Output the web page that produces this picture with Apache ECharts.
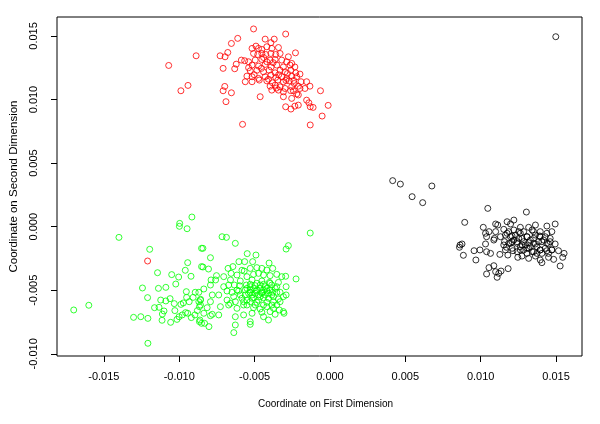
<!DOCTYPE html>
<html>
<head>
<meta charset="utf-8">
<script src="https://cdn.jsdelivr.net/npm/echarts@6/dist/echarts.min.js"></script>
<style>html,body{margin:0;padding:0;background:#fff;}#c{width:600px;height:424px;}</style>
</head>
<body>
<div id="c"></div>
<script>
var xTicks = [-0.015, -0.010, -0.005, 0.000, 0.005, 0.010, 0.015];
var yTicks = [-0.010, -0.005, 0.000, 0.005, 0.010, 0.015];
var xTitle = 'Coordinate on First Dimension';
var yTitle = 'Coordinate on Second Dimension';

var redPoints = [
[-0.00507,0.01555],[-0.00294,0.01515],[-0.00430,0.01475],[-0.00370,0.01475],[-0.00392,0.01447],[-0.00612,0.01481],[-0.00654,0.01441],[-0.00888,0.01344],[-0.01070,0.01268],[-0.00942,0.01111],[-0.00989,0.01069],[-0.00729,0.01344],[-0.00696,0.01336],[-0.00678,0.01370],[-0.00709,0.01245],[-0.00698,0.01103],[-0.00709,0.01069],[-0.00654,0.01053],[-0.00690,0.00983],[-0.00580,0.00805],[-0.00131,0.00800],[-0.00052,0.00870],[-0.00012,0.00954],[-0.00063,0.01069],[-0.00463,0.01022],[-0.00632,0.01242],[-0.00622,0.01278],[-0.00229,0.01367],[-0.01210,-0.00270],
[-0.00517,0.01402],[-0.00491,0.01420],[-0.00474,0.01402],[-0.00452,0.01394],[-0.00419,0.01415],[-0.00386,0.01402],[-0.00342,0.01409],
[-0.00507,0.01362],[-0.00479,0.01354],[-0.00452,0.01362],[-0.00426,0.01354],[-0.00392,0.01362],[-0.00360,0.01354],[-0.00331,0.01362],[-0.00276,0.01336],
[-0.00588,0.01310],[-0.00566,0.01305],[-0.00540,0.01297],[-0.00496,0.01310],[-0.00452,0.01315],[-0.00419,0.01297],[-0.00397,0.01310],[-0.00364,0.01315],[-0.00320,0.01310],[-0.00287,0.01297],[-0.00254,0.01284],
[-0.00517,0.01271],[-0.00474,0.01263],[-0.00430,0.01276],[-0.00390,0.01256],[-0.00353,0.01271],[-0.00309,0.01256],[-0.00265,0.01271],[-0.00233,0.01256],
[-0.00529,0.01226],[-0.00485,0.01230],[-0.00441,0.01218],[-0.00404,0.01230],[-0.00364,0.01210],[-0.00331,0.01230],[-0.00298,0.01218],[-0.00259,0.01230],[-0.00227,0.01210],[-0.00199,0.01200],
[-0.00551,0.01184],[-0.00517,0.01179],[-0.00474,0.01166],[-0.00430,0.01179],[-0.00392,0.01192],[-0.00360,0.01174],[-0.00320,0.01179],[-0.00287,0.01166],[-0.00254,0.01184],[-0.00221,0.01179],
[-0.00562,0.01140],[-0.00517,0.01140],[-0.00469,0.01153],[-0.00419,0.01147],[-0.00382,0.01132],[-0.00346,0.01153],[-0.00309,0.01140],[-0.00271,0.01147],[-0.00237,0.01126],[-0.00192,0.01140],[-0.00155,0.01140],
[-0.00397,0.01105],[-0.00364,0.01113],[-0.00331,0.01100],[-0.00298,0.01087],[-0.00254,0.01100],[-0.00210,0.01105],[-0.00166,0.01087],[-0.00133,0.01105],
[-0.00386,0.01074],[-0.00342,0.01074],[-0.00309,0.01061],[-0.00243,0.01069],[-0.00221,0.01044],[-0.00199,0.01087],
[-0.00309,0.01022],[-0.00254,0.01009],[-0.00210,0.01036],
[-0.00155,0.00995],[-0.00140,0.00974],[-0.00210,0.00956],[-0.00233,0.00948],[-0.00294,0.00943],[-0.00259,0.00925],[-0.00112,0.00938],[-0.00131,0.00943],
[-0.00540,0.01250],[-0.00455,0.01245],[-0.00408,0.01160],[-0.00282,0.01205],[-0.00340,0.01195],[-0.00503,0.01195],[-0.00440,0.01330],[-0.00377,0.01290],[-0.00292,0.01150],[-0.00240,0.01150],[-0.00356,0.01090],[-0.00261,0.01070]
];

var greenPoints = [
[-0.00997,0.00026],[-0.00999,0.00003],[-0.00948,-0.00016],[-0.00916,0.00076],[-0.01400,-0.00084],[-0.01196,-0.00178],[-0.00852,-0.00170],[-0.00944,-0.00283],[-0.00960,-0.00343],[-0.00922,-0.00390],[-0.01004,-0.00396],[-0.01050,-0.00377],[-0.01023,-0.00451],[-0.01144,-0.00362],[-0.00852,-0.00314],[-0.01244,-0.00482],[-0.01138,-0.00485],[-0.01089,-0.00477],[-0.01210,-0.00558],[-0.00953,-0.00511],[-0.00894,-0.00516],[-0.00951,-0.00556],[-0.00908,-0.00556],[-0.00989,-0.00611],[-0.00973,-0.00600],[-0.00934,-0.00590],[-0.01123,-0.00577],[-0.01089,-0.00584],[-0.01061,-0.00566],[-0.01033,-0.00605],[-0.01700,-0.00655],[-0.01600,-0.00618],[-0.01164,-0.00637],[-0.01134,-0.00634],[-0.01101,-0.00663],[-0.01112,-0.00687],[-0.01029,-0.00660],[-0.01303,-0.00713],[-0.01255,-0.00708],[-0.01208,-0.00721],[-0.01114,-0.00736],[-0.01057,-0.00752],[-0.01015,-0.00729],[-0.01001,-0.00708],[-0.00980,-0.00694],[-0.00958,-0.00676],[-0.00944,-0.00681],[-0.00920,-0.00715],[-0.00896,-0.00694],[-0.00880,-0.00660],[-0.00866,-0.00629],[-0.00870,-0.00590],[-0.00859,-0.00571],[-0.00866,-0.00747],[-0.00852,-0.00760],[-0.01208,-0.00917],
[-0.00716,-0.00079],[-0.00687,-0.00084],[-0.00628,-0.00131],[-0.00843,-0.00170],[-0.00793,-0.00244],[-0.00843,-0.00317],[-0.00806,-0.00333],[-0.00276,-0.00149],[-0.00291,-0.00176],[-0.00131,-0.00050],[-0.00549,-0.00212],[-0.00491,-0.00223],[-0.00604,-0.00275],[-0.00566,-0.00275],[-0.00513,-0.00275],[-0.00404,-0.00286],[-0.00225,-0.00411],
[-0.00676,-0.00328],[-0.00644,-0.00314],[-0.00584,-0.00343],[-0.00569,-0.00349],[-0.00529,-0.00328],[-0.00485,-0.00322],[-0.00452,-0.00328],[-0.00419,-0.00341],[-0.00380,-0.00328],
[-0.00753,-0.00385],[-0.00705,-0.00393],[-0.00656,-0.00367],[-0.00617,-0.00380],[-0.00551,-0.00393],[-0.00507,-0.00375],[-0.00474,-0.00367],[-0.00441,-0.00380],[-0.00397,-0.00385],[-0.00353,-0.00375],[-0.00320,-0.00393],[-0.00294,-0.00390],
[-0.00789,-0.00419],[-0.00759,-0.00419],[-0.00660,-0.00419],[-0.00595,-0.00427],[-0.00517,-0.00419],[-0.00452,-0.00427],[-0.00402,-0.00438],[-0.00342,-0.00438],
[-0.00793,-0.00459],[-0.00837,-0.00490],[-0.00705,-0.00472],[-0.00672,-0.00459],[-0.00634,-0.00459],[-0.00600,-0.00464],[-0.00555,-0.00459],[-0.00529,-0.00472],[-0.00496,-0.00464],[-0.00463,-0.00459],[-0.00430,-0.00472],[-0.00386,-0.00459],[-0.00353,-0.00472],[-0.00291,-0.00472],
[-0.00870,-0.00516],[-0.00781,-0.00537],[-0.00738,-0.00537],[-0.00683,-0.00506],[-0.00650,-0.00516],[-0.00606,-0.00506],[-0.00562,-0.00498],[-0.00529,-0.00516],[-0.00489,-0.00506],[-0.00452,-0.00516],[-0.00419,-0.00506],[-0.00380,-0.00516],[-0.00331,-0.00516],[-0.00291,-0.00537],
[-0.00859,-0.00577],[-0.00793,-0.00590],[-0.00683,-0.00577],[-0.00660,-0.00603],[-0.00628,-0.00590],[-0.00584,-0.00563],[-0.00551,-0.00577],[-0.00517,-0.00563],[-0.00474,-0.00577],[-0.00441,-0.00558],[-0.00408,-0.00563],[-0.00375,-0.00550],[-0.00342,-0.00569],
[-0.00859,-0.00616],[-0.00815,-0.00637],[-0.00727,-0.00629],[-0.00672,-0.00616],[-0.00617,-0.00642],[-0.00573,-0.00616],[-0.00507,-0.00637],[-0.00463,-0.00647],[-0.00419,-0.00629],[-0.00375,-0.00642],[-0.00336,-0.00655],[-0.00309,-0.00668],
[-0.00837,-0.00681],[-0.00781,-0.00689],[-0.00738,-0.00694],[-0.00628,-0.00708],[-0.00573,-0.00694],[-0.00517,-0.00681],[-0.00452,-0.00673],[-0.00397,-0.00668],[-0.00364,-0.00689],[-0.00305,-0.00681],
[-0.00863,-0.00734],[-0.00832,-0.00760],[-0.00793,-0.00700],[-0.00803,-0.00786],[-0.00628,-0.00773],[-0.00529,-0.00747],[-0.00529,-0.00768],[-0.00441,-0.00708],[-0.00408,-0.00734],[-0.00638,-0.00833],
[-0.00551,-0.00485],[-0.00529,-0.00498],[-0.00507,-0.00485],[-0.00485,-0.00498],[-0.00463,-0.00485],[-0.00441,-0.00498],[-0.00419,-0.00485],[-0.00397,-0.00498],[-0.00540,-0.00524],[-0.00517,-0.00537],[-0.00496,-0.00524],[-0.00474,-0.00537],[-0.00452,-0.00524],[-0.00430,-0.00537],[-0.00408,-0.00524],[-0.00386,-0.00537],[-0.00529,-0.00453],[-0.00485,-0.00445],[-0.00441,-0.00453],[-0.00397,-0.00445],[-0.00507,-0.00558],[-0.00463,-0.00550],[-0.00419,-0.00595],[-0.00485,-0.00595],[-0.00529,-0.00590],[-0.00375,-0.00590],[-0.00353,-0.00516],[-0.00562,-0.00537],[-0.00364,-0.00485],[-0.00551,-0.00616],[-0.00441,-0.00616],[-0.00386,-0.00616],[-0.00496,-0.00616],[-0.00595,-0.00537],[-0.00617,-0.00498],[-0.00573,-0.00590],[-0.00639,-0.00550],[-0.00331,-0.00590],[-0.00309,-0.00550],[-0.00353,-0.00616]
];

var blackPoints = [
[0.01498,0.01494],
[0.00416,0.00362],[0.00467,0.00335],[0.00676,0.00320],[0.00545,0.00236],[0.00615,0.00189],
[0.01047,0.00144],[0.01303,0.00115],[0.00894,0.00034],
[0.01099,0.00021],[0.01113,0.00013],[0.01175,0.00039],[0.01220,0.00052],[0.01198,0.00021],[0.01263,-0.00005],[0.01318,-0.00005],[0.01363,0.00013],[0.01439,0.00005],[0.01494,0.00021],
[0.01017,-0.00005],[0.01032,-0.00052],[0.01055,-0.00039],[0.01099,-0.00039],[0.01153,-0.00021],[0.01186,-0.00039],[0.01220,-0.00026],[0.01285,-0.00039],[0.01341,-0.00026],[0.01395,-0.00039],[0.01439,-0.00052],[0.01472,-0.00039],
[0.01039,-0.00079],[0.01091,-0.00092],[0.01131,-0.00079],[0.01164,-0.00066],[0.01208,-0.00073],[0.01252,-0.00092],[0.01307,-0.00079],[0.01351,-0.00092],[0.01391,-0.00073],[0.01428,-0.00079],[0.01461,-0.00092],
[0.01032,-0.00136],[0.01087,-0.00105],[0.01158,-0.00118],[0.01198,-0.00131],[0.01241,-0.00118],[0.01274,-0.00144],[0.01318,-0.00126],[0.01363,-0.00136],[0.01406,-0.00118],[0.01450,-0.00136],[0.01494,-0.00136],
[0.00863,-0.00144],[0.00876,-0.00136],[0.00859,-0.00162],[0.00956,-0.00189],[0.00995,-0.00183],[0.01039,-0.00197],[0.01065,-0.00210],[0.01127,-0.00218],[0.01171,-0.00162],[0.01214,-0.00189],[0.01263,-0.00183],[0.01307,-0.00170],[0.01351,-0.00197],[0.01395,-0.00183],[0.01439,-0.00189],[0.01472,-0.00183],[0.01516,-0.00189],[0.01553,-0.00210],
[0.00885,-0.00225],[0.00968,-0.00262],[0.01246,-0.00241],[0.01274,-0.00231],[0.01318,-0.00249],[0.01363,-0.00231],[0.01395,-0.00262],[0.01406,-0.00283],[0.01450,-0.00241],[0.01484,-0.00257],[0.01527,-0.00309],[0.01544,-0.00241],
[0.01055,-0.00322],[0.01087,-0.00307],[0.01182,-0.00330],[0.01099,-0.00354],[0.01120,-0.00367],[0.01135,-0.00349],[0.01039,-0.00372],[0.01109,-0.00398],
[0.01175,-0.00052],[0.01198,-0.00079],[0.01220,-0.00105],[0.01242,-0.00131],[0.01263,-0.00157],[0.01285,-0.00183],[0.01307,-0.00079],[0.01329,-0.00105],[0.01351,-0.00131],[0.01373,-0.00157],[0.01395,-0.00183],[0.01417,-0.00105],[0.01439,-0.00131],[0.01186,-0.00131],[0.01208,-0.00170],[0.01230,-0.00066],[0.01252,-0.00039],[0.01274,-0.00092],[0.01296,-0.00144],[0.01318,-0.00170],[0.01341,-0.00197],[0.01363,-0.00066],[0.01384,-0.00118],[0.01428,-0.00170],[0.01450,-0.00210],[0.01164,-0.00183],[0.01180,-0.00223],[0.01406,-0.00210],[0.01472,-0.00183],[0.01153,-0.00144],
[0.01263,-0.00052],[0.01351,-0.00039],[0.01395,-0.00079],[0.01461,-0.00118],[0.01285,-0.00118],[0.01329,-0.00157],[0.01373,-0.00210],[0.01242,-0.00197],[0.01208,-0.00118],[0.01307,-0.00210]
];

var FONT = '"Liberation Sans", Arial, sans-serif';
var chart = echarts.init(document.getElementById('c'), null, {renderer: 'canvas'});

function pointSeries(data, color) {
  return {
    type: 'scatter',
    data: data,
    symbol: 'circle',
    symbolSize: 6,
    silent: true,
    itemStyle: {color: 'rgba(0,0,0,0)', borderColor: color, borderWidth: 1}
  };
}

chart.setOption({
  backgroundColor: '#ffffff',
  animation: false,
  grid: {left: 54, right: 18, top: 17, bottom: 68, show: true, borderColor: '#000', borderWidth: 1, backgroundColor: 'transparent'},
  xAxis: {
    type: 'value', min: -0.01811, max: 0.01672,
    name: xTitle, nameLocation: 'middle', nameGap: 43,
    nameTextStyle: {fontFamily: FONT, fontSize: 10, color: '#000', padding: [0, 0, 0, 12]},
    axisLine: {show: false, onZero: false},
    splitLine: {show: false},
    axisTick: {show: true, length: 6, customValues: xTicks, lineStyle: {color: '#000', width: 1}},
    axisLabel: {customValues: xTicks, margin: 15, fontFamily: FONT, fontSize: 11, color: '#000',
      formatter: function (v) { return v.toFixed(3); }}
  },
  yAxis: {
    type: 'value', min: -0.01017, max: 0.01649,
    name: yTitle, nameLocation: 'middle', nameGap: 37,
    nameTextStyle: {fontFamily: FONT, fontSize: 11.5, color: '#000'},
    axisLine: {show: false, onZero: false},
    splitLine: {show: false},
    axisTick: {show: true, length: 6, customValues: yTicks, lineStyle: {color: '#000', width: 1}},
    axisLabel: {customValues: yTicks, margin: 18, rotate: 90, fontFamily: FONT, fontSize: 11, color: '#000',
      formatter: function (v) { return v.toFixed(3); }}
  },
  series: [
    pointSeries(blackPoints, '#000000'),
    pointSeries(redPoints, '#ff0000'),
    pointSeries(greenPoints, '#00ff00')
  ]
});
</script>
</body>
</html>
